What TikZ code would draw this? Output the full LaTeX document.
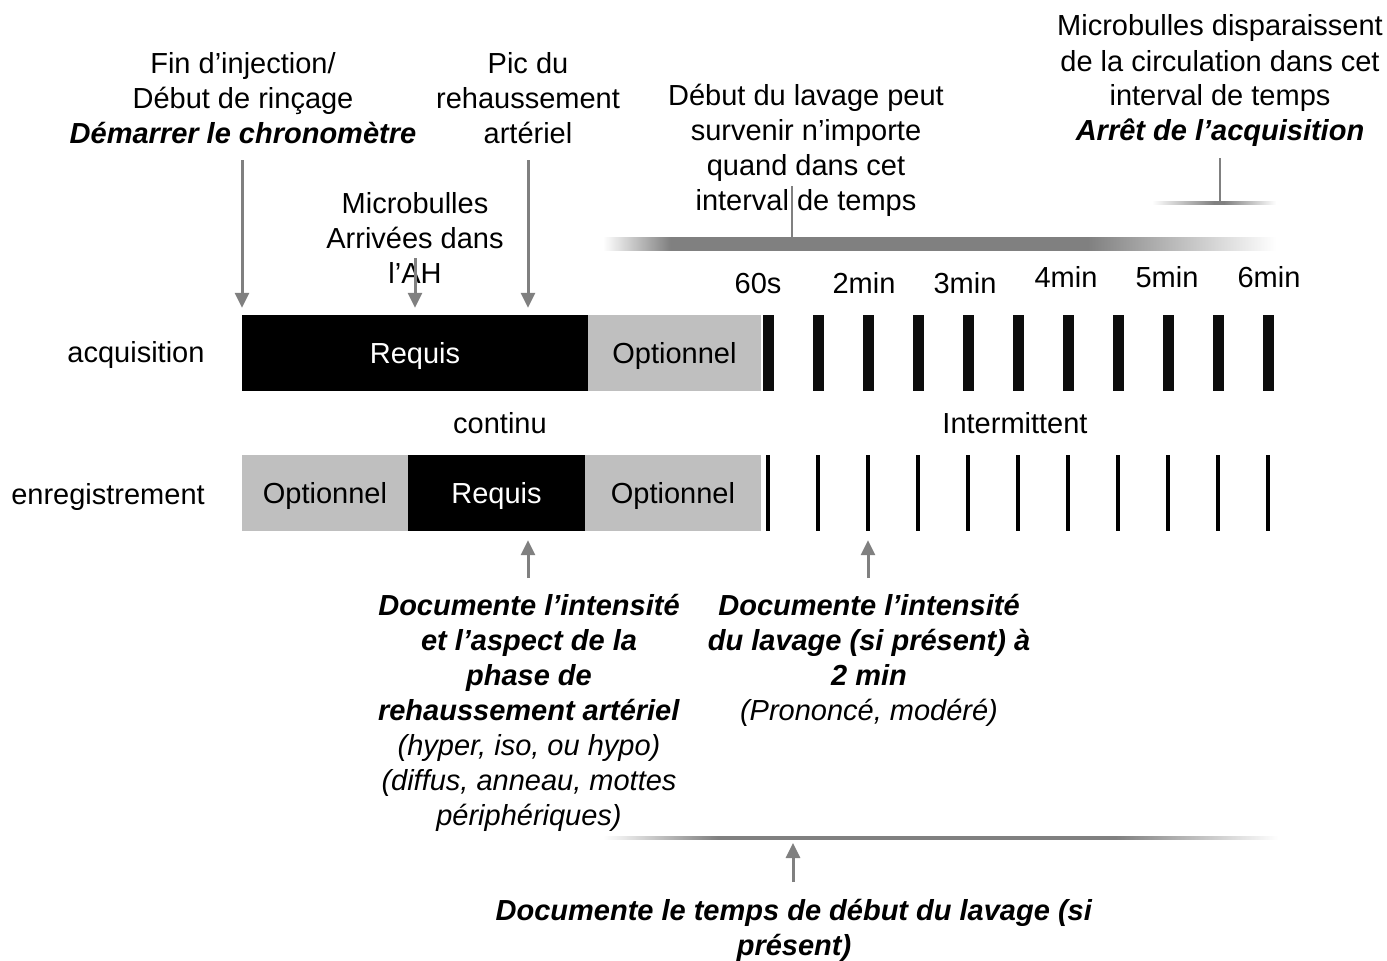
\documentclass[tikz,border=0pt]{standalone}
\usepackage{fontspec}
\setmainfont{Liberation Sans}
\usetikzlibrary{arrows.meta}
\definecolor{arr}{RGB}{128,128,128}
\definecolor{lgray}{RGB}{191,191,191}
\definecolor{barblack}{RGB}{13,13,13}
\newcommand{\bix}[1]{\textbf{\textit{#1}}}
\pgfdeclarehorizontalshading{gbarshade}{100bp}{color(0bp)=(white); color(25bp)=(white); color(30bp)=(arr); color(61bp)=(arr); color(75bp)=(white); color(100bp)=(white)}
\pgfdeclarehorizontalshading{botshade}{100bp}{color(0bp)=(white); color(25bp)=(white); color(33.5bp)=(arr); color(63bp)=(arr); color(75bp)=(white); color(100bp)=(white)}
\pgfdeclarehorizontalshading{topshade}{100bp}{color(0bp)=(white); color(25bp)=(white); color(50bp)=(arr); color(54bp)=(arr); color(75bp)=(white); color(100bp)=(white)}
\begin{document}
\begin{tikzpicture}[x=1pt,y=-1pt,
  every node/.style={font=\fontsize{29}{35}\selectfont, inner sep=0pt},
  txt/.style={align=center},
  blackbox/.style={rectangle, fill=black, text=white, minimum height=76pt, text depth=0pt},
  graybox/.style={rectangle, fill=lgray, text=black, minimum height=76pt, text depth=0pt},
  tickA/.style={rectangle, fill=barblack, minimum width=11pt, minimum height=76pt},
  tickB/.style={rectangle, fill=black, minimum width=4pt, minimum height=76pt},
  garrow/.style={draw=arr, line width=3pt, -{Triangle[length=15pt,width=14pt]}},
  thinline/.style={draw=arr, line width=1.5pt}
]
\useasboundingbox (0,0) rectangle (1387,961);

% gradient bar (time window)
\shade[shading=gbarshade] (603,237) rectangle (1276,250);
% top right line
\shade[shading=topshade] (1152,201) rectangle (1276,204);
% bottom line
\shade[shading=botshade] (603,836.5) rectangle (1278,839.5);

% bars
\node[blackbox, minimum width=346pt] (acqreq) at (415,353) {Requis};
\node[graybox, minimum width=173pt] (acqopt) at (674.5,353) {Optionnel};
\foreach \i in {0,...,10} \node[tickA] (t\i) at ({768+50*\i},353) {};

\node[graybox, minimum width=166pt] (recopt1) at (325,493) {Optionnel};
\node[blackbox, minimum width=177pt] (recreq) at (496.5,493) {Requis};
\node[graybox, minimum width=176pt] (recopt2) at (673,493) {Optionnel};
\foreach \i in {0,...,10} \node[tickB] (r\i) at ({768+50*\i},493) {};

% row labels
\node[anchor=base] (lacq) at (136,362) {acquisition};
\node[anchor=base] (lrec) at (108,504) {enregistrement};
\node[anchor=base] (lcont) at (500,433) {continu};
\node[anchor=base] (linter) at (1015,433) {Intermittent};

% time labels
\node[anchor=base] (s60) at (758,293) {60s};
\node[anchor=base] (m2) at (864,293) {2min};
\node[anchor=base] (m3) at (965,293) {3min};
\node[anchor=base] (m4) at (1066,287) {4min};
\node[anchor=base] (m5) at (1167,287) {5min};
\node[anchor=base] (m6) at (1269,287) {6min};

% texts
\node[txt] (n1) at (243,98) {Fin d’injection/\\Début de rinçage\\\bix{Démarrer le chronomètre}};
\node[txt] (n2) at (528,98) {Pic du\\rehaussement\\artériel};
\node[txt] (n3) at (415,238) {Microbulles\\Arrivées dans\\l’AH};
\node[txt] (n4) at (806,150) {Début du lavage peut\\survenir n’importe\\quand dans cet\\interval de temps};
\node[txt] (n5) at (1220,81) {Microbulles disparaissent\\de la circulation dans cet\\interval de temps\\\bix{Arrêt de l’acquisition}};
\node[txt] (n6) at (529,713) {\bix{Documente l’intensité}\\\bix{et l’aspect de la}\\\bix{phase de}\\\bix{rehaussement artériel}\\\textit{(hyper, iso, ou hypo)}\\\textit{(diffus, anneau, mottes}\\\textit{périphériques)}};
\node[txt] (n7) at (869,660) {\bix{Documente l’intensité}\\\bix{du lavage (si présent) à}\\\bix{2 min}\\\textit{(Prononcé, modéré)}};
\node[txt] (n8) at (794,930) {\bix{Documente le temps de début du lavage (si}\\\bix{présent)}};

% connectors
\coordinate (a1s) at (242,160);
\coordinate (a2s) at (415,258);
\coordinate (a3s) at (528,160);
\draw[garrow, shorten >=7pt] (a1s) -- (a1s |- acqreq.north);
\draw[garrow, shorten >=7pt] (a2s) -- (a2s |- acqreq.north);
\draw[garrow, shorten >=7pt] (a3s) -- (a3s |- acqreq.north);

\coordinate (a4s) at (528,578);
\coordinate (a5s) at (868,578);
\draw[garrow, shorten >=9pt] (a4s) -- (a4s |- recreq.south);
\draw[garrow, shorten >=9pt] (a5s) -- (r2.south);

\coordinate (botline) at (793,838);
\coordinate (a6s) at (793,882);
\draw[garrow, shorten >=5pt] (a6s) -- (botline);

\coordinate (v1s) at (792,186);
\coordinate (gtop) at (792,237);
\draw[thinline] (v1s) -- (gtop);
\coordinate (v2s) at (1220,158);
\coordinate (v2e) at (1220,201);
\draw[thinline, line width=2pt] (v2s) -- (v2e);
\end{tikzpicture}
\end{document}
